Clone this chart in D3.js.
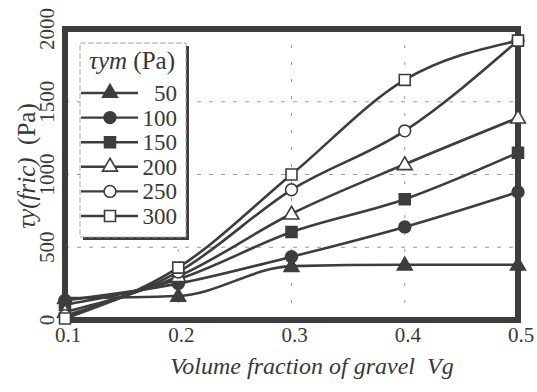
<!DOCTYPE html>
<html>
<head>
<meta charset="utf-8">
<script src="https://cdn.jsdelivr.net/npm/d3@7/dist/d3.min.js"></script>
<style>
  html, body { margin: 0; padding: 0; background: #fff; }
  svg { display: block; }
  #chart text, #chart tspan { font-family: "Liberation Serif", "Times New Roman", serif; }
</style>
</head>
<body>
<svg id="chart" width="537" height="392"></svg>
<script>
// Volume fraction of gravel (x) and yield stress from friction (y, Pa)
const vg = [0.1, 0.2, 0.3, 0.4, 0.5];
const tauYm = [50, 100, 150, 200, 250, 300];
const s50  = [150, 165, 370, 380, 380];
const s100 = [135, 250, 435, 640, 880];
const s150 = [105, 280, 605, 830, 1150];
const s200 = [55, 300, 730, 1070, 1390];
const s250 = [30, 330, 895, 1300, 1920];
const s300 = [10, 360, 1000, 1650, 1920];
const xTicks = [0.1, 0.2, 0.3, 0.4, 0.5];
const yTicks = [0, 500, 1000, 1500, 2000];
const gridX = [0.2, 0.3, 0.4];
const gridY = [500, 1000, 1500];
const markerTypes = ["triangle", "circle", "square", "triangle", "circle", "square"];
const markerFilled = [true, true, true, false, false, false];

const seriesList = [s50, s100, s150, s200, s250, s300].map((vals, i) => ({
  label: String(tauYm[i]),
  values: vals,
  shape: markerTypes[i],
  filled: markerFilled[i]
}));

const ink = "#3d3d3d";
const txt = "#383838";
const serif = '"Liberation Serif"';
const svg = d3.select("#chart");

const x = d3.scaleLinear().domain([0.1, 0.5]).range([65, 518]);
const y = d3.scaleLinear().domain([0, 2000]).range([320, 29]);

// grid
const grid = svg.append("g");
grid.selectAll("line.gy").data(gridY).join("line")
  .attr("x1", x(0.1)).attr("x2", x(0.5))
  .attr("y1", d => y(d)).attr("y2", d => y(d))
  .attr("stroke", "#9a9a9a").attr("stroke-width", 1)
  .attr("stroke-dasharray", "4,8");
grid.selectAll("line.gx").data(gridX).join("line")
  .attr("y1", y(0)).attr("y2", y(2000))
  .attr("x1", d => x(d)).attr("x2", d => x(d))
  .attr("stroke", "#9a9a9a").attr("stroke-width", 1)
  .attr("stroke-dasharray", "3,14");

// series lines
const line = d3.line()
  .x((d, i) => x(vg[i]))
  .y(d => y(d))
  .curve(d3.curveMonotoneX);

svg.append("g").selectAll("path").data(seriesList).join("path")
  .attr("d", d => line(d.values))
  .attr("fill", "none")
  .attr("stroke", ink)
  .attr("stroke-width", 2.6);

// frame
svg.append("rect")
  .attr("x", x(0.1)).attr("y", y(2000))
  .attr("width", x(0.5) - x(0.1)).attr("height", y(0) - y(2000))
  .attr("fill", "none").attr("stroke", ink).attr("stroke-width", 6);

const symbolOf = s => s === "triangle" ? d3.symbolTriangle : s === "circle" ? d3.symbolCircle : d3.symbolSquare;
const sizeOf = s => s === "triangle" ? 95 : s === "circle" ? 110 : 120;

function drawMarker(g, shape, filled) {
  g.append("path")
    .attr("d", d3.symbol().type(symbolOf(shape)).size(sizeOf(shape))())
    .attr("fill", filled ? ink : "#fff")
    .attr("stroke", ink)
    .attr("stroke-width", 1.6);
}

// markers
const markers = svg.append("g");
seriesList.forEach(s => {
  s.values.forEach((v, i) => {
    const g = markers.append("g")
      .attr("transform", `translate(${x(vg[i])},${y(v) + (s.shape === "triangle" ? 1 : 0)})`);
    drawMarker(g, s.shape, s.filled);
  });
});

// x tick labels
svg.append("g").selectAll("text").data(xTicks).join("text")
  .attr("x", d => x(d) + 3).attr("y", 342)
  .attr("text-anchor", "middle")
  .style("font-family", serif)
  .attr("font-size", 21).attr("fill", txt)
  .text(d => d.toFixed(1));

// y tick labels (rotated)
svg.append("g").selectAll("text").data(yTicks).join("text")
  .attr("transform", d => `translate(54,${y(d)}) rotate(-90)`)
  .attr("text-anchor", "middle")
  .style("font-family", serif)
  .attr("font-size", 21).attr("fill", txt)
  .text(d => d);

// axis titles
svg.append("text")
  .attr("x", 312).attr("y", 374)
  .attr("text-anchor", "middle")
  .style("font-family", serif)
  .attr("font-size", 24).attr("font-style", "italic").attr("fill", txt)
  .text("Volume fraction of gravel\u00a0\u00a0Vg");

const yTitle = svg.append("text")
  .attr("transform", "translate(35,166) rotate(-90)")
  .attr("text-anchor", "middle")
  .style("font-family", serif)
  .attr("font-size", 25).attr("fill", txt);
yTitle.append("tspan").attr("font-style", "italic").text("\u03c4y(fric)");
yTitle.append("tspan").text("\u00a0\u00a0(Pa)");

// legend
const lg = svg.append("g");
const lx0 = 80, ly0 = 43, lw = 106, lh = 194;
lg.append("rect")
  .attr("x", lx0 + 3).attr("y", ly0 + 3).attr("width", lw).attr("height", lh)
  .attr("fill", ink);
lg.append("rect")
  .attr("x", lx0).attr("y", ly0).attr("width", lw).attr("height", lh)
  .attr("fill", "#fff").attr("stroke", "#aaa").attr("stroke-width", 1)
  .attr("stroke-dasharray", "6,2");
const lt = lg.append("text")
  .attr("x", lx0 + 9).attr("y", ly0 + 26)
  .style("font-family", serif)
  .attr("font-size", 25).attr("fill", txt);
lt.append("tspan").attr("font-style", "italic").text("\u03c4ym");
lt.append("tspan").text(" (Pa)");

seriesList.forEach((s, i) => {
  const cy = 93 + i * 24.6;
  lg.append("line")
    .attr("x1", lx0 + 1).attr("x2", lx0 + 58)
    .attr("y1", cy).attr("y2", cy)
    .attr("stroke", ink).attr("stroke-width", 2.4);
  const g = lg.append("g").attr("transform", `translate(${lx0 + 30},${cy})`);
  drawMarker(g, s.shape, s.filled);
  lg.append("text")
    .attr("x", lx0 + 97).attr("y", cy + 8)
    .attr("text-anchor", "end")
    .style("font-family", serif)
    .attr("font-size", 23).attr("fill", txt)
    .text(s.label);
});
</script>
</body>
</html>
